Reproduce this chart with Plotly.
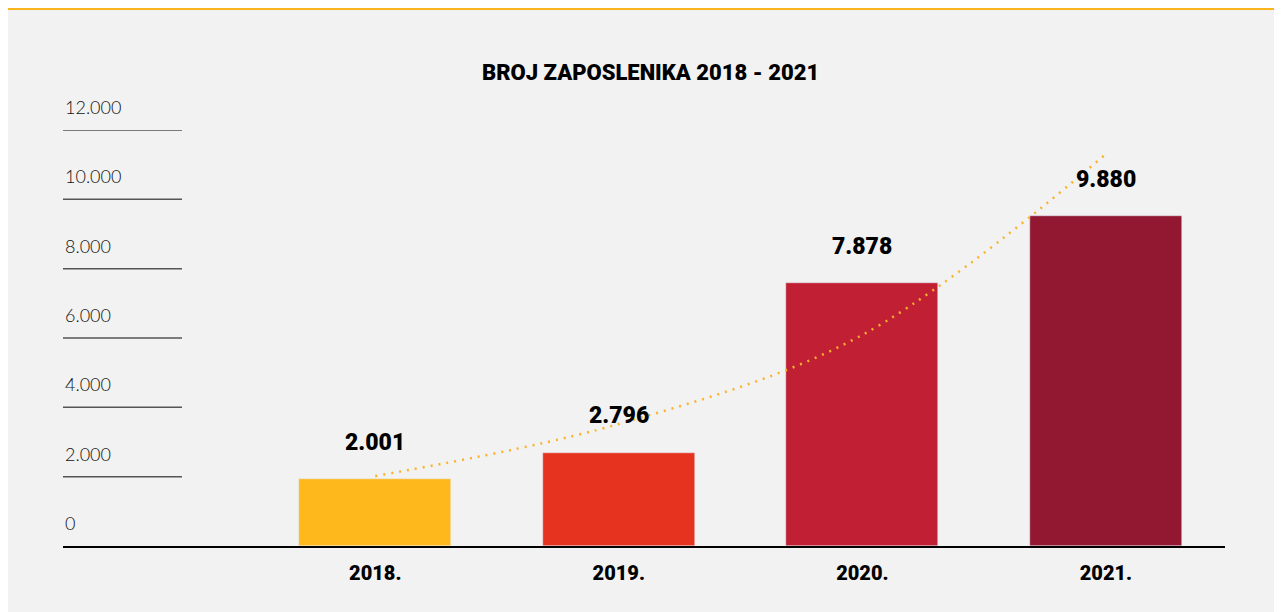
import plotly.graph_objects as go

years = ["2018.", "2019.", "2020.", "2021."]
employees = [2001, 2796, 7878, 9880]
labels = ["2.001", "2.796", "7.878", "9.880"]
bar_colors = ["#FFB81C", "#E5331F", "#C11F33", "#921832"]

# trend line values (dotted yellow curve)
trend = [2019, 3519, 6090, 11307]

grid_vals = [0, 2000, 4000, 6000, 8000, 10000, 12000]
grid_text = ["0", "2.000", "4.000", "6.000", "8.000", "10.000", "12.000"]

W, H = 1282, 612
OFF = 8  # page margin the browser adds
L, R, T, B = 63 - OFF, 1225 - OFF, 130 - OFF, 546 - OFF  # plot area in figure pixels


def px(x):
    return (x - OFF - L) / (R - L)


def py(y):
    return (B - (y - OFF)) / (B - T)


fig = go.Figure()

fig.add_trace(go.Bar(
    x=years, y=employees, marker_color=bar_colors, width=0.625,
    showlegend=False, hoverinfo="x+y",
))

fig.add_trace(go.Scatter(
    x=years, y=trend, mode="lines", line_shape="spline", yaxis="y2",
    line=dict(color="#F9B32A", width=2.5, dash="2px,6px"),
    showlegend=False, hoverinfo="skip",
))

# value labels above bars (category index, since "2018." reads as a number)
for i, (v, t) in enumerate(zip(employees, labels)):
    fig.add_annotation(
        x=i, y=v, xref="x", yref="y", text=t, showarrow=False, yshift=37,
        font=dict(family="Roboto", size=23, color="#000000", weight=900),
    )

# short grid lines + labels on the left
for v, t in zip(grid_vals, grid_text):
    if v > 0:
        fig.add_shape(type="line", xref="paper", yref="y2", x0=0, x1=px(182), y0=v, y1=v,
                      line=dict(color="#555555", width=1.5))
    fig.add_annotation(
        xref="paper", yref="y2", x=0, y=v, xanchor="left", yanchor="middle",
        text=t, showarrow=False, yshift=23,
        font=dict(family="Lato", size=18, color="#111111", weight=300),
    )

# yellow top rule
fig.add_shape(type="rect", xref="paper", yref="paper", x0=px(0), x1=px(W + 20), y0=py(8), y1=py(10),
              fillcolor="#FBB51C", line_width=0, layer="below")

fig.add_annotation(
    xref="paper", yref="paper", x=px(650), y=py(72), text="BROJ ZAPOSLENIKA 2018 - 2021",
    showarrow=False, xanchor="center", yanchor="middle",
    font=dict(family="Roboto", size=22, color="#000000", weight=900),
)

fig.update_layout(
    width=W, height=H,
    margin=dict(l=L, r=W - R, t=T, b=H - B),
    paper_bgcolor="#F2F2F2", plot_bgcolor="#F2F2F2",
    bargap=0,
    xaxis=dict(
        type="category", range=[-1.282, 3.489], showgrid=False, zeroline=False,
        showline=True, linecolor="#000000", linewidth=1.5, ticks="",
        tickfont=dict(family="Roboto", size=20, color="#000000", weight=900),
        ticklabelstandoff=8,
    ),
    yaxis=dict(range=[0, 12472], showgrid=False, zeroline=False, showticklabels=False),
    yaxis2=dict(range=[0, 12000], overlaying="y", showgrid=False, zeroline=False,
                showticklabels=False),
)

fig.write_html("out.html")
